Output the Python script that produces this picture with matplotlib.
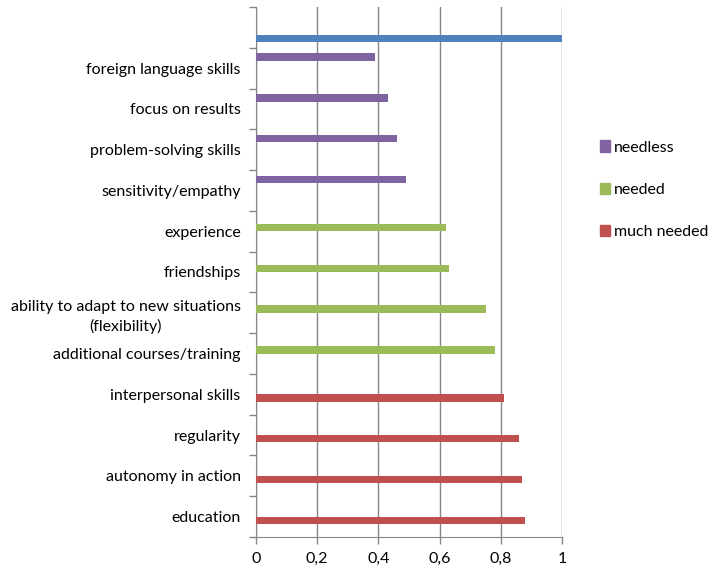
import numpy as np
import matplotlib.pyplot as plt
from matplotlib.patches import Patch

plt.rcParams['font.family'] = ['Lato', 'DejaVu Sans']

categories = ['', 'foreign language skills', 'focus on results', 'problem-solving skills',
              'sensitivity/empathy', 'experience', 'friendships',
              'ability to adapt to new situations\n(flexibility)',
              'additional courses/training', 'interpersonal skills', 'regularity',
              'autonomy in action', 'education']
reference = [1, 0, 0, 0, 0, 0, 0, 0, 0, 0, 0, 0, 0]
needless = [0, 0.39, 0.43, 0.46, 0.49, 0, 0, 0, 0, 0, 0, 0, 0]
needed = [0, 0, 0, 0, 0, 0.62, 0.63, 0.75, 0.78, 0, 0, 0, 0]
much_needed = [0, 0, 0, 0, 0, 0, 0, 0, 0, 0.81, 0.86, 0.87, 0.88]
xticks = [0, 0.2, 0.4, 0.6, 0.8, 1]
xlabels = ['0', '0,2', '0,4', '0,6', '0,8', '1']

c_blue = '#4f81bd'
c_purple = '#8064a2'
c_green = '#9bbb59'
c_red = '#c0504d'
grid_c = '#868686'
fs = 11.5

fig = plt.figure(figsize=(7.1, 5.68), dpi=100)
ax = fig.add_axes([256/710, 31/568, 306/710, 530/568])

y = np.arange(len(categories)) + 0.5
w = 0.18
series = [(needless, c_purple), (needed, c_green), (much_needed, c_red), (reference, c_blue)]
for k, (vals, col) in enumerate(series):
    off = (k - 1.5) * w
    ax.barh(y + off, vals, height=w, color=col, zorder=3)

ax.set_ylim(len(categories), 0)
ax.set_xlim(0, 1)
ax.set_xticks(xticks)
ax.set_xticklabels(xlabels, fontsize=fs)
ax.set_yticks(np.arange(len(categories) + 1))
ax.set_yticklabels([])
ax.set_yticks(y, minor=True)
ax.set_yticklabels(categories, minor=True, fontsize=fs, multialignment='center',
                   linespacing=1.45)
ax.tick_params(axis='y', which='minor', length=0, pad=11)
ax.tick_params(axis='y', which='major', length=5, color=grid_c, width=1)
ax.tick_params(axis='x', length=5, color=grid_c, width=1, pad=6)
ax.xaxis.grid(True, color=grid_c, linewidth=1, zorder=0)
for s in ['top', 'right']:
    ax.spines[s].set_visible(False)
ax.spines['left'].set_color(grid_c)
ax.spines['bottom'].set_color(grid_c)

handles = [Patch(color=c_purple, label='needless'),
           Patch(color=c_green, label='needed'),
           Patch(color=c_red, label='much needed')]
fig.legend(handles=handles, loc='upper left', bbox_to_anchor=(586/710, 1 - 126/568),
           frameon=False, fontsize=fs, handlelength=0.6, handleheight=0.7,
           handletextpad=0.25, labelspacing=1.75)

fig.savefig('out.png', dpi=100)
